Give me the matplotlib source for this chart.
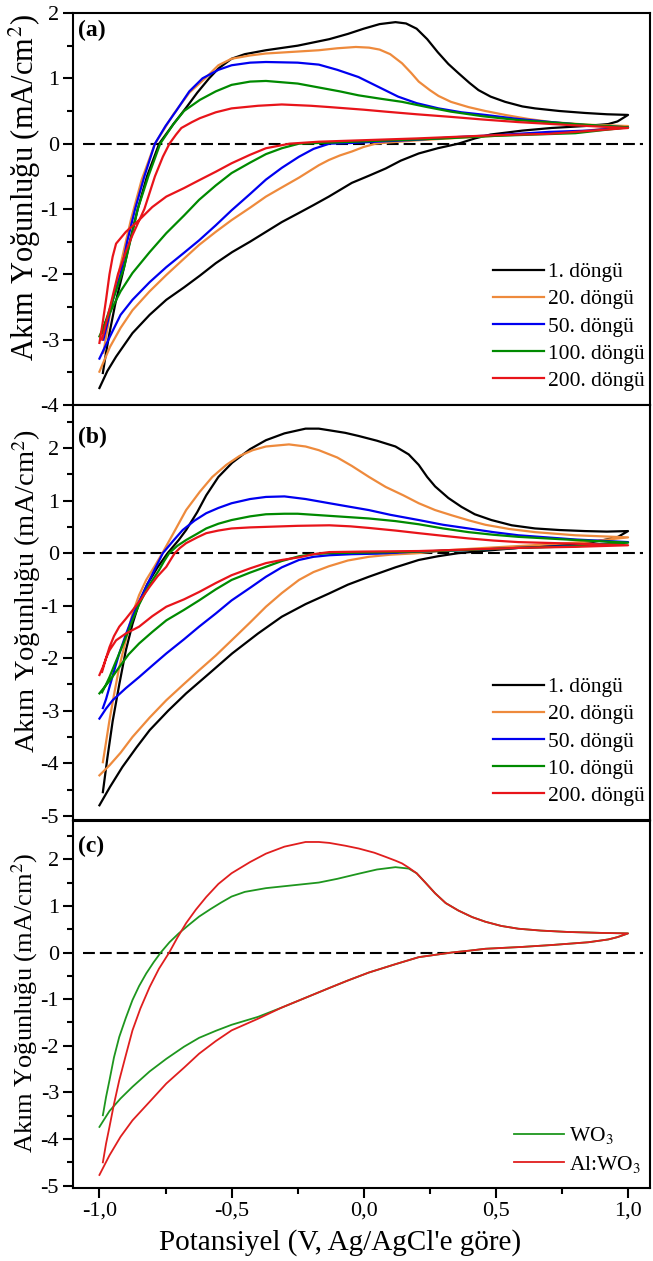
import matplotlib
matplotlib.use('Agg')
import matplotlib.pyplot as plt
from matplotlib.ticker import MultipleLocator, FuncFormatter

plt.rcParams['font.family'] = ['Liberation Serif', 'DejaVu Serif']
plt.rcParams['mathtext.fontset'] = 'stix'
plt.rcParams['axes.unicode_minus'] = False
plt.rcParams['axes.linewidth'] = 1.5

# ---------------- data ----------------
# each curve is a list of (V, mA/cm2) points: anodic sweep (-1 -> 1), then cathodic sweep (1 -> -1)

# panel (a)
a_black = [(-0.987, -3.51), (-0.975, -3.2), (-0.962, -2.9), (-0.94, -2.45), (-0.913, -2.0), (-0.885, -1.5),
           (-0.855, -1.0), (-0.82, -0.5), (-0.774, 0.0), (-0.72, 0.3), (-0.672, 0.55), (-0.63, 0.78),
           (-0.585, 1.0), (-0.55, 1.15), (-0.5, 1.3), (-0.45, 1.37), (-0.37, 1.43), (-0.25, 1.5),
           (-0.13, 1.6), (-0.06, 1.68), (0.0, 1.76), (0.06, 1.83), (0.12, 1.86), (0.16, 1.84),
           (0.2, 1.76), (0.24, 1.6), (0.28, 1.4), (0.32, 1.22), (0.358, 1.08), (0.4, 0.93),
           (0.434, 0.82), (0.48, 0.72), (0.535, 0.64), (0.6, 0.57), (0.648, 0.54), (0.74, 0.5),
           (0.837, 0.47), (0.92, 0.45), (1.0, 0.44),
           (0.96, 0.34), (0.925, 0.30), (0.837, 0.27), (0.71, 0.24), (0.6, 0.2), (0.48, 0.14),
           (0.42, 0.08), (0.358, 0.0), (0.28, -0.07), (0.208, -0.15), (0.14, -0.26), (0.083, -0.38),
           (0.02, -0.49), (-0.045, -0.6), (-0.132, -0.81), (-0.19, -0.94), (-0.245, -1.06),
           (-0.31, -1.2), (-0.37, -1.35), (-0.43, -1.5), (-0.498, -1.66), (-0.56, -1.83),
           (-0.62, -2.02), (-0.68, -2.2), (-0.747, -2.39), (-0.81, -2.62), (-0.875, -2.9),
           (-0.937, -3.26), (-0.97, -3.48), (-1.0, -3.74)]
a_orange = [(-0.985, -3.2), (-0.96, -2.6), (-0.92, -1.85), (-0.88, -1.15), (-0.84, -0.55), (-0.79, 0.0),
            (-0.72, 0.45), (-0.66, 0.78), (-0.6, 1.0), (-0.55, 1.2), (-0.5, 1.3), (-0.43, 1.35),
            (-0.37, 1.38), (-0.25, 1.41), (-0.17, 1.43), (-0.1, 1.46), (-0.03, 1.48), (0.02, 1.47),
            (0.06, 1.44), (0.1, 1.37), (0.145, 1.23), (0.18, 1.08), (0.208, 0.95), (0.25, 0.82),
            (0.283, 0.73), (0.33, 0.64), (0.396, 0.56), (0.46, 0.5), (0.535, 0.44), (0.62, 0.38),
            (0.71, 0.33), (0.85, 0.29), (1.0, 0.27),
            (0.8, 0.18), (0.6, 0.14), (0.4, 0.1), (0.2, 0.05), (0.1, 0.02), (0.045, 0.0),
            (0.0, -0.05), (-0.045, -0.12), (-0.09, -0.18), (-0.132, -0.25), (-0.17, -0.33),
            (-0.245, -0.52), (-0.31, -0.67), (-0.37, -0.81), (-0.43, -0.98), (-0.5, -1.17),
            (-0.56, -1.35), (-0.623, -1.55), (-0.68, -1.76), (-0.747, -2.01), (-0.81, -2.26),
            (-0.875, -2.55), (-0.92, -2.82), (-0.96, -3.11), (-1.0, -3.49)]
a_blue = [(-0.985, -3.0), (-0.97, -2.75), (-0.95, -2.4), (-0.92, -2.0), (-0.895, -1.5), (-0.865, -1.0),
          (-0.83, -0.5), (-0.79, 0.0), (-0.75, 0.27), (-0.71, 0.5), (-0.66, 0.8), (-0.61, 1.0),
          (-0.55, 1.13), (-0.5, 1.2), (-0.43, 1.24), (-0.37, 1.25), (-0.25, 1.24), (-0.17, 1.21),
          (-0.1, 1.13), (-0.02, 1.02), (0.05, 0.88), (0.13, 0.72), (0.2, 0.62), (0.283, 0.54),
          (0.37, 0.48), (0.46, 0.44), (0.58, 0.38), (0.71, 0.33), (0.85, 0.28), (1.0, 0.25),
          (0.85, 0.2), (0.7, 0.18), (0.5, 0.13), (0.35, 0.1), (0.2, 0.06), (0.05, 0.03),
          (-0.05, 0.01), (-0.13, 0.0), (-0.19, -0.08), (-0.245, -0.2), (-0.31, -0.37),
          (-0.37, -0.55), (-0.43, -0.77), (-0.5, -1.02), (-0.56, -1.25), (-0.623, -1.48),
          (-0.68, -1.67), (-0.747, -1.89), (-0.81, -2.12), (-0.875, -2.39), (-0.92, -2.62),
          (-0.96, -2.95), (-1.0, -3.29)]
a_green = [(-0.99, -2.9), (-0.975, -2.7), (-0.95, -2.4), (-0.907, -1.9), (-0.855, -1.0), (-0.815, -0.5),
           (-0.77, 0.0), (-0.72, 0.3), (-0.68, 0.5), (-0.62, 0.67), (-0.56, 0.8), (-0.5, 0.9),
           (-0.43, 0.95), (-0.37, 0.96), (-0.25, 0.92), (-0.17, 0.86), (-0.09, 0.8), (-0.02, 0.74),
           (0.06, 0.69), (0.145, 0.64), (0.24, 0.56), (0.33, 0.49), (0.45, 0.42), (0.585, 0.36),
           (0.8, 0.3), (1.0, 0.25),
           (0.8, 0.16), (0.5, 0.12), (0.3, 0.08), (0.1, 0.05), (-0.1, 0.02), (-0.245, 0.0),
           (-0.31, -0.07), (-0.37, -0.16), (-0.43, -0.29), (-0.5, -0.45), (-0.56, -0.64),
           (-0.623, -0.86), (-0.68, -1.1), (-0.747, -1.37), (-0.81, -1.66), (-0.875, -1.98),
           (-0.92, -2.26), (-0.95, -2.5), (-0.975, -2.72), (-1.0, -2.95)]
a_red = [(-0.99, -3.0), (-0.975, -2.75), (-0.96, -2.5), (-0.93, -2.0), (-0.9, -1.65), (-0.875, -1.4),
         (-0.83, -1.0), (-0.79, -0.5), (-0.76, -0.2), (-0.735, 0.0), (-0.71, 0.14), (-0.69, 0.24),
         (-0.65, 0.33), (-0.62, 0.39), (-0.56, 0.48), (-0.5, 0.54), (-0.4, 0.58), (-0.31, 0.6),
         (-0.2, 0.58), (-0.13, 0.56), (0.0, 0.52), (0.083, 0.49), (0.2, 0.45), (0.33, 0.41),
         (0.45, 0.37), (0.585, 0.33), (0.8, 0.28), (1.0, 0.24),
         (0.7, 0.15), (0.5, 0.13), (0.2, 0.08), (-0.17, 0.03), (-0.28, 0.0), (-0.37, -0.07),
         (-0.43, -0.17), (-0.5, -0.3), (-0.56, -0.43), (-0.623, -0.56), (-0.68, -0.68),
         (-0.747, -0.81), (-0.8, -0.97), (-0.85, -1.17), (-0.9, -1.35), (-0.937, -1.53),
         (-0.95, -1.73), (-0.962, -2.0), (-0.975, -2.39), (-0.988, -2.75), (-1.0, -3.05)]

# panel (b)
b_black = [(-0.987, -4.55), (-0.97, -3.9), (-0.95, -3.2), (-0.925, -2.5), (-0.9, -1.85), (-0.875, -1.35),
           (-0.85, -0.95), (-0.82, -0.6), (-0.78, -0.27), (-0.742, 0.0), (-0.7, 0.25), (-0.672, 0.44),
           (-0.63, 0.78), (-0.596, 1.1), (-0.55, 1.45), (-0.498, 1.72), (-0.43, 1.98), (-0.37, 2.15),
           (-0.3, 2.28), (-0.22, 2.37), (-0.17, 2.37), (-0.132, 2.34), (-0.07, 2.29), (-0.019, 2.23),
           (0.05, 2.14), (0.12, 2.03), (0.17, 1.88), (0.208, 1.68), (0.24, 1.45), (0.27, 1.27),
           (0.32, 1.05), (0.37, 0.88), (0.42, 0.74), (0.483, 0.63), (0.56, 0.53), (0.648, 0.47),
           (0.74, 0.44), (0.837, 0.42), (0.92, 0.41), (1.0, 0.42),
           (0.962, 0.31), (0.9, 0.24), (0.837, 0.19), (0.7, 0.14), (0.585, 0.1), (0.47, 0.05),
           (0.358, 0.0), (0.28, -0.06), (0.208, -0.13), (0.12, -0.27), (0.019, -0.45), (-0.06, -0.6),
           (-0.132, -0.77), (-0.22, -0.97), (-0.31, -1.21), (-0.4, -1.53), (-0.498, -1.91),
           (-0.58, -2.27), (-0.672, -2.67), (-0.74, -3.0), (-0.81, -3.37), (-0.86, -3.7),
           (-0.913, -4.07), (-0.96, -4.45), (-1.0, -4.8)]
b_orange = [(-0.987, -3.98), (-0.975, -3.6), (-0.962, -3.18), (-0.945, -2.7), (-0.925, -2.17), (-0.9, -1.65),
            (-0.875, -1.15), (-0.85, -0.8), (-0.823, -0.51), (-0.79, -0.24), (-0.762, 0.0), (-0.72, 0.38),
            (-0.672, 0.82), (-0.62, 1.17), (-0.573, 1.45), (-0.52, 1.68), (-0.47, 1.85), (-0.42, 1.96),
            (-0.37, 2.03), (-0.283, 2.07), (-0.22, 2.03), (-0.17, 1.96), (-0.1, 1.82), (-0.045, 1.66),
            (0.02, 1.45), (0.083, 1.26), (0.15, 1.1), (0.208, 0.95), (0.27, 0.82), (0.333, 0.72),
            (0.4, 0.62), (0.46, 0.54), (0.55, 0.46), (0.648, 0.4), (0.8, 0.34), (1.0, 0.3),
            (0.85, 0.22), (0.71, 0.17), (0.46, 0.1), (0.3, 0.05), (0.208, 0.0), (0.1, -0.03),
            (0.019, -0.07), (-0.06, -0.14), (-0.132, -0.25), (-0.19, -0.36), (-0.245, -0.51),
            (-0.31, -0.76), (-0.37, -1.02), (-0.43, -1.32), (-0.5, -1.66), (-0.56, -1.95),
            (-0.623, -2.23), (-0.68, -2.49), (-0.747, -2.8), (-0.81, -3.13), (-0.875, -3.5),
            (-0.92, -3.8), (-0.962, -4.04), (-1.0, -4.23)]
b_blue = [(-0.987, -2.95), (-0.975, -2.78), (-0.962, -2.55), (-0.945, -2.25), (-0.925, -1.91), (-0.9, -1.55),
          (-0.875, -1.21), (-0.85, -0.92), (-0.823, -0.64), (-0.79, -0.3), (-0.76, 0.0), (-0.72, 0.24),
          (-0.685, 0.44), (-0.64, 0.62), (-0.596, 0.76), (-0.55, 0.86), (-0.5, 0.95), (-0.43, 1.03),
          (-0.37, 1.07), (-0.3, 1.08), (-0.22, 1.03), (-0.13, 0.95), (-0.05, 0.88), (0.019, 0.82),
          (0.1, 0.73), (0.208, 0.63), (0.3, 0.54), (0.396, 0.47), (0.49, 0.4), (0.585, 0.34),
          (0.8, 0.26), (1.0, 0.21),
          (0.8, 0.14), (0.585, 0.1), (0.4, 0.06), (0.208, 0.03), (0.05, -0.01), (-0.045, -0.02),
          (-0.13, -0.04), (-0.19, -0.07), (-0.245, -0.13), (-0.31, -0.27), (-0.37, -0.45),
          (-0.43, -0.66), (-0.5, -0.9), (-0.56, -1.15), (-0.623, -1.4), (-0.68, -1.64),
          (-0.747, -1.91), (-0.8, -2.14), (-0.85, -2.36), (-0.9, -2.57), (-0.95, -2.8),
          (-0.975, -2.96), (-1.0, -3.15)]
b_green = [(-0.99, -2.65), (-0.975, -2.5), (-0.962, -2.36), (-0.945, -2.15), (-0.925, -1.91), (-0.9, -1.6),
           (-0.875, -1.28), (-0.85, -0.98), (-0.823, -0.71), (-0.8, -0.52), (-0.774, -0.32),
           (-0.755, -0.15), (-0.736, 0.0), (-0.705, 0.14), (-0.672, 0.25), (-0.63, 0.37),
           (-0.596, 0.47), (-0.55, 0.56), (-0.5, 0.63), (-0.43, 0.7), (-0.37, 0.74), (-0.3, 0.75),
           (-0.25, 0.75), (-0.13, 0.71), (0.019, 0.66), (0.12, 0.61), (0.208, 0.55), (0.3, 0.47),
           (0.396, 0.4), (0.49, 0.35), (0.585, 0.31), (0.8, 0.25), (1.0, 0.2),
           (0.8, 0.13), (0.585, 0.1), (0.4, 0.06), (0.208, 0.03), (0.0, 0.01), (-0.13, 0.0),
           (-0.19, -0.02), (-0.245, -0.06), (-0.31, -0.15), (-0.37, -0.26), (-0.43, -0.37),
           (-0.5, -0.51), (-0.56, -0.69), (-0.623, -0.9), (-0.68, -1.08), (-0.747, -1.28),
           (-0.8, -1.5), (-0.85, -1.72), (-0.89, -1.93), (-0.925, -2.17), (-0.96, -2.42), (-1.0, -2.67)]
b_red = [(-0.99, -2.26), (-0.975, -2.0), (-0.962, -1.79), (-0.945, -1.58), (-0.925, -1.4), (-0.9, -1.25),
         (-0.875, -1.09), (-0.84, -0.86), (-0.81, -0.64), (-0.78, -0.44), (-0.747, -0.26),
         (-0.73, -0.12), (-0.715, 0.0), (-0.695, 0.1), (-0.672, 0.19), (-0.63, 0.3), (-0.596, 0.38),
         (-0.55, 0.43), (-0.5, 0.47), (-0.43, 0.49), (-0.37, 0.5), (-0.25, 0.52), (-0.13, 0.53),
         (-0.05, 0.51), (0.019, 0.48), (0.12, 0.43), (0.208, 0.38), (0.3, 0.33), (0.396, 0.28),
         (0.49, 0.24), (0.585, 0.21), (0.8, 0.18), (1.0, 0.15),
         (0.8, 0.12), (0.585, 0.1), (0.4, 0.07), (0.208, 0.04), (0.0, 0.03), (-0.13, 0.02),
         (-0.19, -0.02), (-0.245, -0.08), (-0.31, -0.13), (-0.37, -0.19), (-0.43, -0.29),
         (-0.5, -0.42), (-0.56, -0.57), (-0.623, -0.74), (-0.68, -0.88), (-0.747, -1.02),
         (-0.8, -1.2), (-0.85, -1.4), (-0.9, -1.53), (-0.937, -1.66), (-0.962, -1.85),
         (-0.975, -2.0), (-0.987, -2.17), (-1.0, -2.32)]

# panel (c)
c_wo3 = [(-0.987, -3.49), (-0.975, -3.1), (-0.962, -2.74), (-0.945, -2.25), (-0.925, -1.81), (-0.9, -1.4),
         (-0.875, -1.02), (-0.85, -0.72), (-0.823, -0.45), (-0.795, -0.21), (-0.768, 0.0),
         (-0.735, 0.22), (-0.7, 0.41), (-0.66, 0.6), (-0.623, 0.77), (-0.58, 0.93), (-0.54, 1.07),
         (-0.5, 1.2), (-0.45, 1.3), (-0.37, 1.38), (-0.27, 1.44), (-0.17, 1.5), (-0.1, 1.58),
         (-0.019, 1.69), (0.05, 1.78), (0.12, 1.83), (0.17, 1.8), (0.2, 1.7), (0.233, 1.5),
         (0.27, 1.27), (0.31, 1.06), (0.358, 0.9), (0.41, 0.76), (0.46, 0.66), (0.52, 0.57),
         (0.585, 0.51), (0.67, 0.47), (0.774, 0.44), (0.9, 0.42), (1.0, 0.41),
         (0.96, 0.33), (0.925, 0.28), (0.85, 0.22), (0.71, 0.16), (0.6, 0.12), (0.46, 0.08),
         (0.4, 0.04), (0.333, 0.0), (0.27, -0.05), (0.208, -0.1), (0.12, -0.25), (0.019, -0.43),
         (-0.06, -0.6), (-0.13, -0.76), (-0.22, -0.97), (-0.31, -1.18), (-0.4, -1.38),
         (-0.5, -1.55), (-0.56, -1.68), (-0.623, -1.83), (-0.68, -2.02), (-0.747, -2.28),
         (-0.81, -2.55), (-0.875, -2.88), (-0.92, -3.13), (-0.962, -3.4), (-1.0, -3.74)]
c_alwo3 = [(-0.987, -4.5), (-0.975, -4.1), (-0.962, -3.74), (-0.945, -3.25), (-0.925, -2.74), (-0.9, -2.2),
           (-0.875, -1.67), (-0.845, -1.2), (-0.81, -0.74), (-0.775, -0.35), (-0.736, 0.0),
           (-0.705, 0.32), (-0.672, 0.63), (-0.635, 0.92), (-0.596, 1.19), (-0.55, 1.47),
           (-0.5, 1.7), (-0.43, 1.94), (-0.37, 2.12), (-0.3, 2.27), (-0.22, 2.37), (-0.17, 2.37),
           (-0.13, 2.35), (-0.07, 2.29), (-0.019, 2.23), (0.04, 2.14), (0.083, 2.05), (0.12, 1.97),
           (0.145, 1.91), (0.17, 1.82), (0.2, 1.7), (0.233, 1.5), (0.27, 1.27), (0.31, 1.06),
           (0.358, 0.9), (0.41, 0.76), (0.46, 0.66), (0.52, 0.57), (0.585, 0.51), (0.67, 0.47),
           (0.774, 0.44), (0.9, 0.42), (1.0, 0.41),
           (0.96, 0.33), (0.925, 0.28), (0.85, 0.22), (0.71, 0.16), (0.6, 0.12), (0.46, 0.08),
           (0.4, 0.04), (0.333, 0.0), (0.27, -0.05), (0.208, -0.1), (0.12, -0.25), (0.019, -0.43),
           (-0.06, -0.6), (-0.13, -0.76), (-0.22, -0.97), (-0.31, -1.18), (-0.4, -1.42),
           (-0.5, -1.67), (-0.56, -1.9), (-0.623, -2.17), (-0.68, -2.47), (-0.747, -2.81),
           (-0.81, -3.2), (-0.875, -3.6), (-0.92, -3.95), (-0.962, -4.35), (-1.0, -4.77)]

labels_a = ['1. döngü', '20. döngü', '50. döngü', '100. döngü', '200. döngü']
labels_b = ['1. döngü', '20. döngü', '50. döngü', '10. döngü', '200. döngü']
labels_c = ['WO$_3$', 'Al:WO$_3$']
colors = ['#000000', '#EE8A3C', '#0000F0', '#008A00', '#E8141A']
colors_c = ['#1E961E', '#E01E1E']

xticks = [-1.0, -0.5, 0.0, 0.5, 1.0]
xtick_labels = ['-1,0', '-0,5', '0,0', '0,5', '1,0']

# ---------------- figure ----------------
fig = plt.figure(figsize=(6.53, 12.61), dpi=100)
W, H = 653.0, 1261.0
left, width = 73 / W, 577 / W
ax_a = fig.add_axes([left, 1 - 405 / H, width, 392 / H])
ax_b = fig.add_axes([left, 1 - 820 / H, width, 415 / H])
ax_c = fig.add_axes([left, 1 - 1188 / H, width, 367 / H])

series_a = [a_black, a_orange, a_blue, a_green, a_red]
series_b = [b_black, b_orange, b_blue, b_green, b_red]
series_c = [c_wo3, c_alwo3]

for pts, col, lab in zip(series_a, colors, labels_a):
    xs, ys = zip(*pts)
    ax_a.plot(xs, ys, color=col, lw=1.6, label=lab)
for pts, col, lab in zip(series_b, colors, labels_b):
    xs, ys = zip(*pts)
    ax_b.plot(xs, ys, color=col, lw=1.6, label=lab)
for pts, col, lab in zip(series_c, colors_c, labels_c):
    xs, ys = zip(*pts)
    ax_c.plot(xs, ys, color=col, lw=1.3, label=lab)

ylims = [(-4, 2), (-5.08, 2.82), (-5.05, 2.82)]
label_sizes = [22, 20.5, 19]
label_pos = [(-0.052, 0.554), (-0.052, 0.552), (-0.058, 0.505)]
panel_tags = ['(a)', '(b)', '(c)']
tag_y = [0.982, 0.947, 0.959]

for i, ax in enumerate([ax_a, ax_b, ax_c]):
    ax.axhline(0, xmin=0.017, xmax=0.988, color='k', lw=1.5, ls=(0, (5.7, 2.4)), zorder=1)
    ax.set_xlim(-1.1, 1.083)
    ax.set_ylim(*ylims[i])
    ax.yaxis.set_major_locator(MultipleLocator(1))
    ax.yaxis.set_minor_locator(MultipleLocator(0.5))
    ax.yaxis.set_major_formatter(FuncFormatter(lambda v, p: '%d' % round(v)))
    ax.set_xticks(xticks)
    ax.tick_params(which='major', direction='out', length=7, width=1.5, labelsize=16, pad=3)
    ax.tick_params(which='minor', direction='out', length=4, width=1.5)
    ax.set_ylabel('Akım Yoğunluğu (mA/cm$^2$)', fontsize=label_sizes[i])
    ax.yaxis.set_label_coords(*label_pos[i])
    ax.text(0.009, tag_y[i], panel_tags[i], transform=ax.transAxes, fontsize=17,
            fontweight='bold', ha='left', va='top')

ax_a.set_xticklabels([])
ax_b.set_xticklabels([])
ax_c.set_xticklabels(xtick_labels)
ax_c.xaxis.set_minor_locator(MultipleLocator(0.25))
ax_c.set_xlabel("Potansiyel (V, Ag/AgCl'e göre)", fontsize=21)
ax_c.xaxis.set_label_coords(0.463, -0.112)

leg_kw = dict(frameon=False, fontsize=15.5, handlelength=2.35, handletextpad=0.2,
              borderpad=0, borderaxespad=0, loc='lower right')
ax_a.legend(labelspacing=0.33, bbox_to_anchor=(0.991, 0.036), **leg_kw)
ax_b.legend(labelspacing=0.33, bbox_to_anchor=(0.991, 0.034), **leg_kw)
ax_c.legend(labelspacing=0.36, bbox_to_anchor=(0.984, 0.036), **leg_kw)

fig.savefig('out.png', dpi=100)
